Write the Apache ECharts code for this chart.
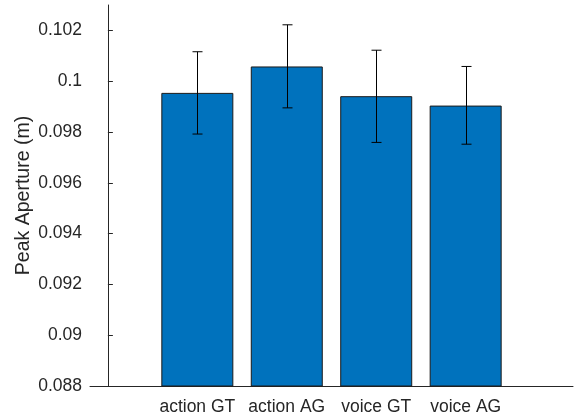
<!DOCTYPE html>
<html><head><meta charset="utf-8">
<script src="https://cdn.jsdelivr.net/npm/echarts@6/dist/echarts.min.js"></script>
<style>html,body{margin:0;padding:0;background:#fff}#c{width:575px;height:419px}</style>
</head><body><div id="c"></div>
<script>
const categories = ['action GT', 'action AG', 'voice GT', 'voice AG'];
const positions = [1, 2, 3, 4];
const means = [0.09954, 0.10058, 0.09941, 0.09904];
const errLow = [0.09792, 0.09895, 0.09759, 0.09752];
const errHigh = [0.10116, 0.10222, 0.10122, 0.10058];
const yTicks = [0.088, 0.09, 0.092, 0.094, 0.096, 0.098, 0.1, 0.102];

const font = 'Liberation Sans, Arial, Helvetica, sans-serif';
const chart = echarts.init(document.getElementById('c'), null, {renderer: 'canvas'});
chart.setOption({
  animation: false,
  grid: {left: 90, right: 2, top: 5, bottom: 33, containLabel: false},
  xAxis: {
    type: 'value', min: -0.2, max: 5.2,
    axisLine: {show: true, lineStyle: {color: '#262626', width: 1}},
    axisTick: {show: false},
    splitLine: {show: false},
    axisLabel: {
      customValues: positions,
      formatter: v => categories[Math.round(v) - 1] || '',
      color: '#262626', fontSize: 17.5, fontFamily: font, margin: 12
    }
  },
  yAxis: {
    type: 'value', min: 0.088, max: 0.103,
    name: 'Peak Aperture (m)', nameLocation: 'middle', nameGap: 56,
    nameMoveOverlap: false,
    nameTextStyle: {color: '#262626', fontSize: 19.5, fontFamily: font},
    axisLine: {show: true, lineStyle: {color: '#262626', width: 1}},
    axisTick: {show: true, inside: true, length: 5, customValues: yTicks, lineStyle: {color: '#262626'}},
    splitLine: {show: false},
    axisLabel: {
      customValues: yTicks,
      formatter: v => String(parseFloat(v.toFixed(4))),
      color: '#262626', fontSize: 17.5, fontFamily: font, margin: 8
    }
  },
  series: [
    {
      type: 'bar',
      data: positions.map((p, i) => [p, means[i]]),
      barWidth: 72,
      itemStyle: {color: '#0072BD', borderColor: '#1a1a1a', borderWidth: 1}
    },
    {
      type: 'custom',
      data: positions.map((p, i) => [p, errLow[i], errHigh[i]]),
      renderItem: function (params, api) {
        const lo = api.coord([api.value(0), api.value(1)]);
        const hi = api.coord([api.value(0), api.value(2)]);
        const x = Math.round(lo[0]) + 0.5;
        const hw = 5;
        const st = {stroke: '#000', lineWidth: 1};
        return {
          type: 'group',
          children: [
            {type: 'line', shape: {x1: x, y1: lo[1], x2: x, y2: hi[1]}, style: st},
            {type: 'line', shape: {x1: x - hw, y1: lo[1], x2: x + hw, y2: lo[1]}, style: st},
            {type: 'line', shape: {x1: x - hw, y1: hi[1], x2: x + hw, y2: hi[1]}, style: st}
          ]
        };
      },
      z: 10
    }
  ]
});
</script></body></html>
